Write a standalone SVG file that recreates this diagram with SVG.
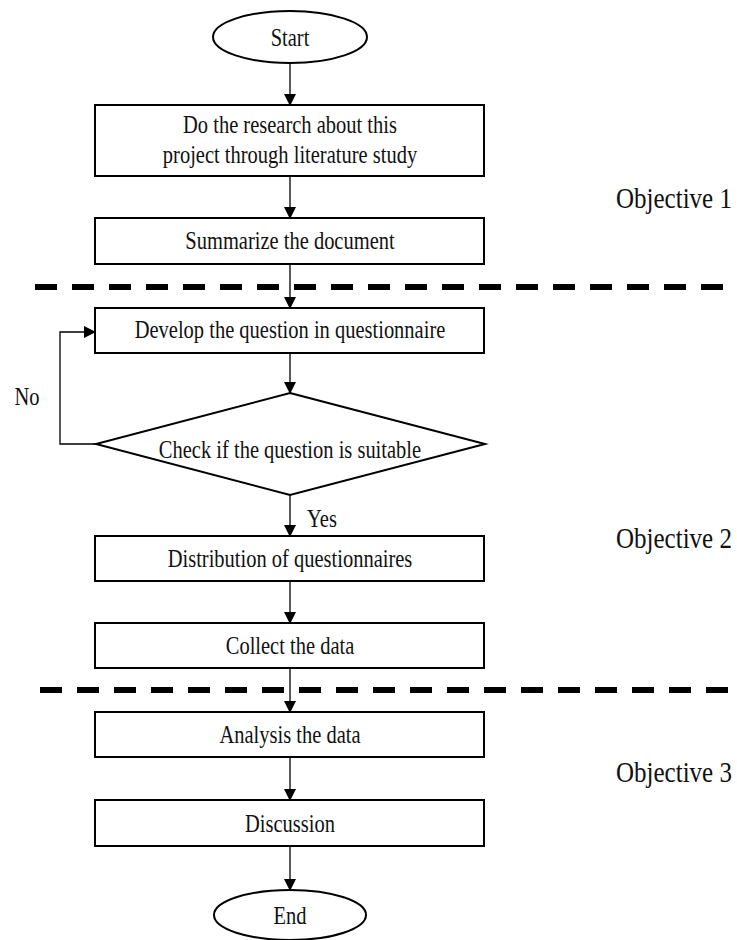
<svg xmlns="http://www.w3.org/2000/svg" width="737" height="940" viewBox="0 0 737 940">
<defs>
<marker id="arr" markerWidth="12" markerHeight="12" refX="11" refY="6" orient="auto" markerUnits="userSpaceOnUse">
<path d="M0,0 L12,6 L0,12 Z" fill="#000"/>
</marker>
<style>
.n{fill:#fff;stroke:#000;stroke-width:2}
.t{font-family:"Liberation Serif","Times New Roman",serif;font-size:20.5px;fill:#111;text-anchor:middle}
.o{font-family:"Liberation Serif","Times New Roman",serif;font-size:25px;fill:#111}
.c{fill:none;stroke:#000;stroke-width:1.3}
.d{stroke:#000;stroke-width:6;stroke-dasharray:22 15}
</style>
</defs>
<rect width="737" height="940" fill="#fff"/>
<g id="dividers">
<line class="d" x1="35" y1="287" x2="737" y2="287"/>
<line class="d" x1="40" y1="690" x2="737" y2="690"/>
</g>
<g id="connectors">
<line class="c" x1="290" y1="63" x2="290" y2="105" marker-end="url(#arr)"/>
<line class="c" x1="290" y1="176" x2="290" y2="218" marker-end="url(#arr)"/>
<line class="c" x1="290" y1="264" x2="290" y2="308" marker-end="url(#arr)"/>
<line class="c" x1="290" y1="353" x2="290" y2="393" marker-end="url(#arr)"/>
<line class="c" x1="290" y1="495" x2="290" y2="536" marker-end="url(#arr)"/>
<line class="c" x1="290" y1="581" x2="290" y2="623" marker-end="url(#arr)"/>
<line class="c" x1="290" y1="668" x2="290" y2="712" marker-end="url(#arr)"/>
<line class="c" x1="290" y1="757" x2="290" y2="800" marker-end="url(#arr)"/>
<line class="c" x1="290" y1="846" x2="290" y2="890" marker-end="url(#arr)"/>
<polyline class="c" points="97,444 60,444 60,332 95,332" marker-end="url(#arr)"/>
<text class="t" transform="translate(27,405) scale(1,1.2)">No</text>
<text class="t" transform="translate(322,527) scale(1,1.2)">Yes</text>
</g>
<g id="start">
<ellipse class="n" cx="290" cy="37" rx="77" ry="26"/>
<text class="t" transform="translate(290,46) scale(1,1.2)">Start</text>
</g>
<g id="research">
<rect class="n" x="95" y="105" width="389" height="71"/>
<text class="t" transform="translate(290,133) scale(1,1.2)">Do the research about this</text>
<text class="t" transform="translate(290,163) scale(1,1.2)">project through literature study</text>
</g>
<g id="summarize">
<rect class="n" x="95" y="218" width="389" height="46"/>
<text class="t" transform="translate(290,249) scale(1,1.2)">Summarize the document</text>
</g>
<g id="develop">
<rect class="n" x="95" y="308" width="389" height="45"/>
<text class="t" transform="translate(290,338) scale(1,1.2)">Develop the question in questionnaire</text>
</g>
<g id="check">
<polygon class="n" points="290,393 485,444 290,495 96,444"/>
<text class="t" transform="translate(290,458) scale(1,1.2)">Check if the question is suitable</text>
</g>
<g id="distribution">
<rect class="n" x="95" y="536" width="389" height="45"/>
<text class="t" transform="translate(290,567) scale(1,1.2)">Distribution of questionnaires</text>
</g>
<g id="collect">
<rect class="n" x="95" y="623" width="389" height="45"/>
<text class="t" transform="translate(290,654) scale(1,1.2)">Collect the data</text>
</g>
<g id="analysis">
<rect class="n" x="95" y="712" width="389" height="45"/>
<text class="t" transform="translate(290,743) scale(1,1.2)">Analysis the data</text>
</g>
<g id="discussion">
<rect class="n" x="95" y="800" width="389" height="46"/>
<text class="t" transform="translate(290,832) scale(1,1.2)">Discussion</text>
</g>
<g id="end">
<ellipse class="n" cx="290" cy="915" rx="76" ry="25"/>
<text class="t" transform="translate(290,924) scale(1,1.2)">End</text>
</g>
<g id="objectives">
<text class="o" transform="translate(616,208) scale(1,1.2)">Objective 1</text>
<text class="o" transform="translate(616,548) scale(1,1.2)">Objective 2</text>
<text class="o" transform="translate(616,782) scale(1,1.2)">Objective 3</text>
</g>
</svg>
